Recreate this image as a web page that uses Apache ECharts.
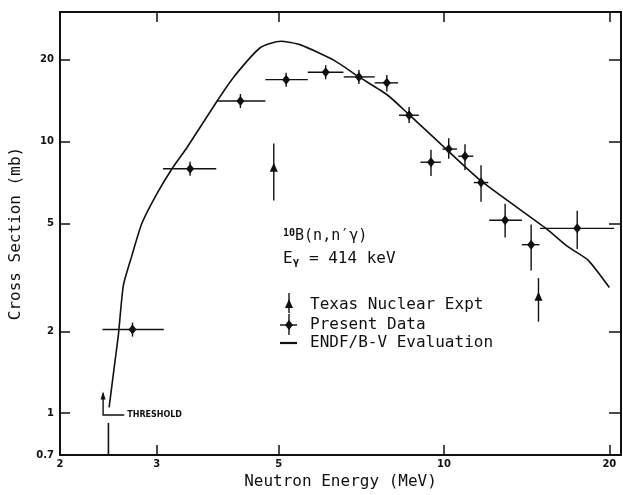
<!DOCTYPE html>
<html>
<head>
<meta charset="utf-8">
<script src="https://cdn.jsdelivr.net/npm/echarts@6/dist/echarts.min.js"></script>
<style>
html,body{margin:0;padding:0;background:#fff;}
#chart{width:623px;height:495px;}
</style>
</head>
<body>
<div id="chart"></div>
<script>
// ---- data ----
const xTicks = [2, 3, 5, 10, 20];
const yTicks = [0.7, 1, 2, 5, 10, 20];

// Present Data: energy (MeV), cross section (mb), x-error range, y-error range
const presentE     = [2.71, 3.45, 4.26, 5.16, 6.09, 7.00, 7.87, 8.64, 9.47, 10.2, 10.92, 11.68, 12.92, 14.41, 17.48];
const presentSigma = [2.03, 7.94, 14.1, 16.9, 18.0, 17.3, 16.45, 12.5, 8.39, 9.38, 8.83, 7.06, 5.13, 4.17, 4.79];
const presentElo   = [2.39, 3.08, 3.86, 4.73, 5.65, 6.57, 7.48, 8.28, 9.06, 9.94, 10.62, 11.33, 12.09, 13.86, 14.95];
const presentEhi   = [3.09, 3.85, 4.73, 5.65, 6.56, 7.48, 8.25, 9.00, 9.87, 10.56, 11.31, 12.04, 13.86, 14.92, 20.4];
const presentSlo   = [1.92, 7.6, 13.5, 16.2, 17.4, 16.9, 15.3, 11.7, 7.47, 8.65, 7.86, 6.0, 4.43, 3.35, 4.02];
const presentShi   = [2.13, 8.3, 14.8, 17.8, 18.9, 17.7, 17.6, 13.4, 9.33, 10.28, 9.78, 8.17, 5.9, 4.95, 5.56];

// Texas Nuclear Expt
const texasE     = [4.9, 14.86];
const texasSigma = [7.94, 2.66];
const texasSlo   = [6.06, 2.17];
const texasShi   = [9.83, 3.14];

// ENDF/B-V evaluation curve
const endfE     = [2.457, 2.519, 2.555, 2.609, 2.703, 2.819, 3.003, 3.198, 3.406, 3.864, 4.144, 4.634, 5.04, 5.48, 6.31, 7.0, 7.89, 8.64, 9.87, 11.68, 15.35, 16.81, 18.29, 20.0];
const endfSigma = [1.05, 1.556, 1.95, 2.958, 3.80, 5.0, 6.43, 7.94, 9.51, 14.11, 17.3, 22.2, 23.4, 22.7, 19.9, 17.3, 14.84, 12.56, 9.78, 7.16, 4.78, 4.10, 3.66, 2.90];

// Threshold annotation
const thresholdE = [2.45];
const thresholdArrow = [2.396, 1.18, 0.983, 2.618]; // E, arrow tip, corner sigma, end E

// ---- chart ----
const chart = echarts.init(document.getElementById('chart'), null, {renderer: 'canvas'});
const mono = '"DejaVu Sans Mono", monospace';
const tickFont = {fontFamily: '"DejaVu Sans", sans-serif', fontWeight: 'bold', fontSize: 10, color: '#111'};
const axisLine = {show: true, lineStyle: {color: '#111', width: 2}};
const tickIn = (len) => ({show: true, inside: true, length: len, lineStyle: {color: '#111', width: 1.5}, customValues: [3,5,10,20]});
const yTickIn = (len) => ({show: true, inside: true, length: len, lineStyle: {color: '#111', width: 1.5}, customValues: [1,2,5,10,20]});

const presentData = presentE.map((e, i) => [e, presentSigma[i], presentElo[i], presentEhi[i], presentSlo[i], presentShi[i]]);
const texasData = texasE.map((e, i) => [e, texasSigma[i], texasSlo[i], texasShi[i]]);
const endfData = endfE.map((e, i) => [e, endfSigma[i]]);

const lineStyle = {stroke: '#111', lineWidth: 1.4};

chart.setOption({
  backgroundColor: '#fff',
  animation: false,
  grid: {left: 60, right: 2, top: 12, bottom: 34},
  xAxis: [{
    type: 'log', min: 2, max: 21, position: 'bottom',
    name: 'Neutron Energy (MeV)', nameLocation: 'middle', nameGap: 15,
    nameTextStyle: {fontFamily: mono, fontSize: 16, color: '#111'},
    axisLine: axisLine, axisTick: tickIn(10), splitLine: {show: false}, minorTick: {show: false},
    axisLabel: Object.assign({margin: 4, customValues: xTicks, formatter: v => String(Math.round(v))}, tickFont)
  }, {
    type: 'log', min: 2, max: 21, position: 'top',
    axisLine: axisLine, axisTick: tickIn(10), splitLine: {show: false},
    axisLabel: {show: false}
  }],
  yAxis: [{
    type: 'log', min: 0.7, max: 30, position: 'left',
    name: 'Cross Section (mb)', nameLocation: 'middle', nameGap: 36, nameRotate: 90,
    nameTextStyle: {fontFamily: mono, fontSize: 16, color: '#111'},
    axisLine: axisLine, axisTick: yTickIn(10), splitLine: {show: false},
    axisLabel: Object.assign({margin: 6, customValues: yTicks, formatter: v => (v < 1 ? '0.7' : String(Math.round(v)))}, tickFont)
  }, {
    type: 'log', min: 0.7, max: 30, position: 'right',
    axisLine: axisLine, axisTick: yTickIn(12), splitLine: {show: false},
    axisLabel: {show: false}
  }],
  series: [{
    name: 'ENDF/B-V Evaluation', type: 'line', data: endfData, showSymbol: false, symbol: 'none',
    lineStyle: {color: '#111', width: 1.6}, smooth: 0.2, z: 2
  }, {
    name: 'Present Data', type: 'custom', data: presentData, encode: {x: 0, y: 1}, z: 3,
    renderItem: function (params, api) {
      const e = api.value(0), s = api.value(1);
      const c = api.coord([e, s]);
      const l = api.coord([api.value(2), s]), r = api.coord([api.value(3), s]);
      const lo = api.coord([e, api.value(4)]), hi = api.coord([e, api.value(5)]);
      const top = Math.min(hi[1], c[1] - 7), bot = Math.max(lo[1], c[1] + 7);
      return {type: 'group', children: [
        {type: 'line', shape: {x1: l[0], y1: c[1], x2: r[0], y2: c[1]}, style: lineStyle},
        {type: 'line', shape: {x1: c[0], y1: top, x2: c[0], y2: bot}, style: lineStyle},
        {type: 'polygon', shape: {points: [[c[0], c[1]-5], [c[0]+4, c[1]], [c[0], c[1]+5], [c[0]-4, c[1]]]}, style: {fill: '#111'}}
      ]};
    }
  }, {
    name: 'Texas Nuclear Expt', type: 'custom', data: texasData, encode: {x: 0, y: 1}, z: 3,
    renderItem: function (params, api) {
      const e = api.value(0), s = api.value(1);
      const c = api.coord([e, s]);
      const lo = api.coord([e, api.value(2)]), hi = api.coord([e, api.value(3)]);
      return {type: 'group', children: [
        {type: 'line', shape: {x1: c[0], y1: hi[1], x2: c[0], y2: lo[1]}, style: lineStyle},
        {type: 'polygon', shape: {points: [[c[0], c[1]-6], [c[0]+4, c[1]+3], [c[0]-4, c[1]+3]]}, style: {fill: '#111'}}
      ]};
    }
  }, {
    name: 'threshold', type: 'custom', data: thresholdE.map(e => [e]), encode: {x: 0}, z: 3,
    renderItem: function (params, api) {
      const e = api.value(0);
      const b = api.coord([e, 0.7]), t = api.coord([e, 0.92]);
      const a0 = api.coord([thresholdArrow[0], thresholdArrow[1]]);
      const a1 = api.coord([thresholdArrow[0], thresholdArrow[2]]);
      const a2 = api.coord([thresholdArrow[3], thresholdArrow[2]]);
      return {type: 'group', children: [
        {type: 'line', shape: {x1: b[0], y1: b[1], x2: t[0], y2: t[1]}, style: {stroke: '#111', lineWidth: 1.6}},
        {type: 'polyline', shape: {points: [a0, a1, a2]}, style: {stroke: '#111', lineWidth: 1.4, fill: null}},
        {type: 'polygon', shape: {points: [[a0[0], a0[1]-2], [a0[0]+2.5, a0[1]+6], [a0[0]-2.5, a0[1]+6]]}, style: {fill: '#111'}},
        {type: 'text', x: a2[0] + 3, y: a2[1], style: {text: 'THRESHOLD', fill: '#111', font: 'bold 8px "DejaVu Sans", sans-serif', verticalAlign: 'middle', align: 'left'}}
      ]};
    }
  }],
  graphic: [
    {type: 'text', left: 283, top: 228, style: {
      text: '{sup|10}{n|B(n,n\u2032\u03b3)}', fill: '#111',
      rich: {sup: {fontFamily: mono, fontSize: 10, fontWeight: 'bold', verticalAlign: 'top', padding: [0,0,6,0]}, n: {fontFamily: mono, fontSize: 15}}
    }},
    {type: 'text', left: 283, top: 251, style: {
      text: '{n|E}{sub|\u03b3}{n| = 414 keV}', fill: '#111',
      rich: {sub: {fontFamily: mono, fontSize: 11, fontWeight: 'bold', padding: [6,0,0,0]}, n: {fontFamily: mono, fontSize: 16}}
    }},
    // legend keys
    {type: 'line', shape: {x1: 289, y1: 293, x2: 289, y2: 313}, style: {stroke: '#111', lineWidth: 1.4}},
    {type: 'polygon', shape: {points: [[289, 299], [293, 308], [285, 308]]}, style: {fill: '#111'}},
    {type: 'line', shape: {x1: 280, y1: 325, x2: 297, y2: 325}, style: {stroke: '#111', lineWidth: 1.4}},
    {type: 'line', shape: {x1: 289, y1: 314, x2: 289, y2: 335}, style: {stroke: '#111', lineWidth: 1.4}},
    {type: 'polygon', shape: {points: [[289, 320], [293, 325], [289, 330], [285, 325]]}, style: {fill: '#111'}},
    {type: 'line', shape: {x1: 280, y1: 343, x2: 297, y2: 343}, style: {stroke: '#111', lineWidth: 2.2}},
    {type: 'text', left: 310, top: 297, style: {text: 'Texas Nuclear Expt', fill: '#111', fontFamily: mono, fontSize: 16}},
    {type: 'text', left: 310, top: 317, style: {text: 'Present Data', fill: '#111', fontFamily: mono, fontSize: 16}},
    {type: 'text', left: 310, top: 335, style: {text: 'ENDF/B-V Evaluation', fill: '#111', fontFamily: mono, fontSize: 16}}
  ]
});
</script>
</body>
</html>
